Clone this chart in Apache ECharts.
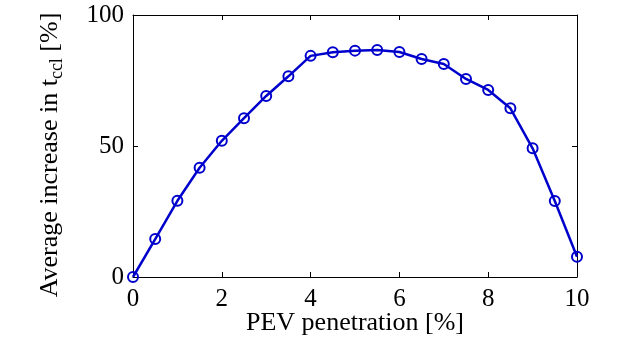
<!DOCTYPE html>
<html>
<head>
<meta charset="utf-8">
<script src="https://cdn.jsdelivr.net/npm/echarts@6/dist/echarts.min.js"></script>
<style>html,body{margin:0;padding:0;background:#fff}#c{width:640px;height:340px}</style>
</head>
<body>
<div id="c"></div>
<script>
const penetration = [0,0.5,1,1.5,2,2.5,3,3.5,4,4.5,5,5.5,6,6.5,7,7.5,8,8.5,9,9.5,10];
const increase = [0,14.5,29.1,41.7,52.0,60.6,69.1,76.6,84.4,85.8,86.4,86.6,85.9,83.2,81.3,75.6,71.4,64.4,49.1,29.0,7.7];
const xTitle = 'PEV penetration [%]';
const yTitleMain = 'Average increase in t';
const yTitleSub = 'ccl';
const yTitleEnd = ' [%]';

const FONT = '"Liberation Serif", "Times New Roman", serif';
const BLUE = '#0000cc';
const chart = echarts.init(document.getElementById('c'), null, {renderer: 'canvas'});
const pts = penetration.map((x, i) => [x, increase[i]]);
const axLine = {show: true, onZero: false, lineStyle: {color: '#000', width: 1}};
const tick = {show: true, inside: true, length: 5, lineStyle: {color: '#000', width: 1}};
chart.setOption({
  animation: false,
  grid: {left: 133, right: 63, top: 15, bottom: 63, outerBoundsMode: 'none', containLabel: false},
  xAxis: [{
    type: 'value', min: 0, max: 10, interval: 2,
    axisLine: axLine, axisTick: tick, splitLine: {show: false},
    axisLabel: {fontFamily: FONT, fontSize: 25, color: '#000', margin: 10},
    name: xTitle, nameLocation: 'middle', nameGap: 33, nameMoveOverlap: false,
    nameTextStyle: {fontFamily: FONT, fontSize: 26, color: '#000', verticalAlign: 'top'}
  }, {
    type: 'value', min: 0, max: 10, interval: 2, position: 'top',
    axisLine: axLine, axisTick: tick, axisLabel: {show: false}, splitLine: {show: false}
  }],
  yAxis: [{
    type: 'value', min: 0, max: 100, interval: 50,
    axisLine: axLine, axisTick: tick, splitLine: {show: false},
    axisLabel: {fontFamily: FONT, fontSize: 25, color: '#000', margin: 9},
    name: '{a|' + yTitleMain + '}{s|' + yTitleSub + '}{e|' + yTitleEnd + '}',
    nameLocation: 'middle', nameGap: 70, nameMoveOverlap: false,
    nameTextStyle: {
      fontFamily: FONT, fontSize: 26, color: '#000',
      rich: {
        a: {fontFamily: FONT, fontSize: 26, color: '#000', lineHeight: 26},
        e: {fontFamily: FONT, fontSize: 26, color: '#000', lineHeight: 26, padding: [0, 18, 0, 0]},
        s: {fontFamily: FONT, fontSize: 18, color: '#000', lineHeight: 18, padding: [15, 0, 0, 0]}
      }
    }
  }, {
    type: 'value', min: 0, max: 100, interval: 50, position: 'right',
    axisLine: axLine, axisTick: tick, axisLabel: {show: false}, splitLine: {show: false}
  }],
  series: [{
    type: 'line', data: pts, xAxisIndex: 0, yAxisIndex: 0,
    symbol: 'circle', symbolSize: 10, showAllSymbol: true,
    lineStyle: {color: BLUE, width: 2.5},
    itemStyle: {color: 'rgba(0,0,0,0)', borderColor: BLUE, borderWidth: 2},
    clip: false
  }]
});
</script>
</body>
</html>
